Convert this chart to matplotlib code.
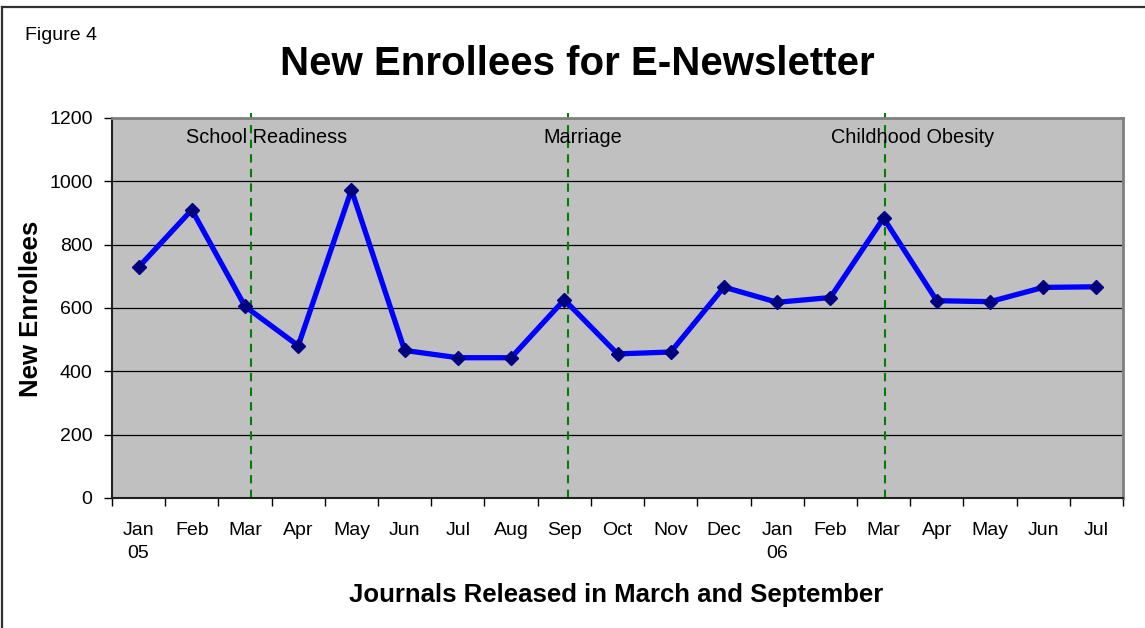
import matplotlib
matplotlib.use("Agg")
import matplotlib.pyplot as plt
from matplotlib.lines import Line2D

plt.rcParams['font.family'] = ['Liberation Sans', 'DejaVu Sans']

months = ["Jan\n05", "Feb", "Mar", "Apr", "May", "Jun", "Jul", "Aug", "Sep", "Oct",
          "Nov", "Dec", "Jan\n06", "Feb", "Mar", "Apr", "May", "Jun", "Jul"]
enrollees = [729, 910, 605, 481, 973, 466, 443, 443, 626, 455,
             461, 666, 618, 633, 884, 623, 620, 665, 667]
journal_pos = [2.12, 8.07, 14.03]
journal_names = ["School Readiness", "Marriage", "Childhood Obesity"]
journal_label_x = [2.4, 8.35, 14.55]
yticks = [0, 200, 400, 600, 800, 1000, 1200]

W, H = 1145, 628
fig = plt.figure(figsize=(W / 100, H / 100), dpi=100)
fig.patch.set_facecolor("white")

ax = fig.add_axes([112 / W, 1 - 498 / H, (1123 - 112) / W, (498 - 118) / H])
ax.set_facecolor("#C0C0C0")

x = list(range(len(months)))
ax.set_xlim(-0.5, len(months) - 0.5)
ax.set_ylim(0, 1200)
ax.set_yticks(yticks)
ax.set_yticklabels([str(v) for v in yticks], fontsize=14)
ax.yaxis.grid(True, color="black", linewidth=0.9)
ax.set_axisbelow(True)

# category labels between ticks
ax.set_xticks([i - 0.5 for i in range(len(months) + 1)])
ax.set_xticklabels([])
ax.set_xticks(x, minor=True)
ax.set_xticklabels(months, minor=True, fontsize=14, linespacing=1.5)
ax.tick_params(axis="x", which="minor", length=0, pad=17)
ax.tick_params(axis="x", which="major", length=6, width=1, direction="out")
ax.tick_params(axis="y", length=6, width=1, direction="out", pad=8)

for s in ["top", "right"]:
    ax.spines[s].set_color("#808080")
    ax.spines[s].set_linewidth(2)
for s in ["left", "bottom"]:
    ax.spines[s].set_color("#202020")
    ax.spines[s].set_linewidth(1.5)

for p in journal_pos:
    ax.plot([p, p], [0, 1215], color="#008000", linestyle=(0, (4, 3)),
            linewidth=1.5, clip_on=False, zorder=2)

ax.plot(x, enrollees, color="#0000FF", linewidth=3.8, zorder=3)
ax.plot(x, enrollees, linestyle="none", marker="D", markersize=7.5,
        color="#000080", zorder=4)

for name, lx in zip(journal_names, journal_label_x):
    ax.text(lx, 1138, name, ha="center", va="center", fontsize=14.3, color="black", zorder=5)

fig.text(577 / W, 1 - 64 / H, "New Enrollees for E-Newsletter", ha="center", va="center",
         fontsize=29, fontweight="bold")
fig.text(25 / W, 1 - 36 / H, "Figure 4", ha="left", va="center", fontsize=14)
fig.text(31 / W, 1 - 309 / H, "New Enrollees", ha="center", va="center",
         rotation=90, fontsize=18.5, fontweight="bold")
fig.text(616 / W, 1 - 595 / H, "Journals Released in March and September", ha="center",
         va="center", fontsize=18.5, fontweight="bold")

# outer frame (top and left edges visible)
fig.add_artist(Line2D([1.5 / W, 1], [1 - 6.5 / H, 1 - 6.5 / H], color="#303030",
                      linewidth=1.6, transform=fig.transFigure))
fig.add_artist(Line2D([1.5 / W, 1.5 / W], [0, 1 - 6.5 / H], color="#303030",
                      linewidth=1.6, transform=fig.transFigure))

fig.savefig("out.png", dpi=100, facecolor="white")
